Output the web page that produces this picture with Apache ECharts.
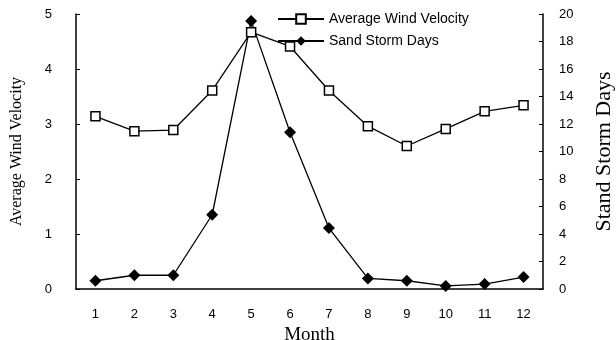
<!DOCTYPE html>
<html>
<head>
<meta charset="utf-8">
<script src="https://cdn.jsdelivr.net/npm/echarts@6/dist/echarts.min.js"></script>
<style>
html, body { margin: 0; padding: 0; background: #fff; }
#main { width: 616px; height: 340px; }
</style>
</head>
<body>
<div id="main"></div>
<script>
var months = ['1', '2', '3', '4', '5', '6', '7', '8', '9', '10', '11', '12'];
var windVelocity = [3.14, 2.87, 2.89, 3.61, 4.67, 4.41, 3.61, 2.96, 2.6, 2.91, 3.23, 3.34];
var stormDays = [0.6, 1.0, 1.0, 5.4, 19.5, 11.4, 4.43, 0.77, 0.6, 0.22, 0.36, 0.87];

var myChart = echarts.init(document.getElementById('main'));

var tickFont = { color: '#000', fontFamily: 'Liberation Sans', fontSize: 13 };

option = {
    animation: false,
    backgroundColor: '#fff',
    grid: { left: 76, right: 73, top: 14, bottom: 51, containLabel: false, outerBoundsMode: 'none' },
    legend: {
        orient: 'vertical',
        left: 272,
        top: 7,
        itemWidth: 46,
        itemHeight: 12,
        itemGap: 8,
        textStyle: { color: '#000', fontFamily: 'Liberation Sans', fontSize: 14 },
        data: ['Average Wind Velocity', 'Sand Storm Days']
    },
    xAxis: {
        type: 'category',
        data: months,
        name: 'Month',
        nameLocation: 'middle',
        nameGap: 35,
        nameTextStyle: { color: '#000', fontFamily: 'Liberation Serif', fontSize: 19 },
        axisLine: { lineStyle: { color: '#000', width: 1.5 } },
        axisTick: { inside: true, length: 4, lineStyle: { color: '#000' } },
        axisLabel: Object.assign({ margin: 19 }, tickFont)
    },
    yAxis: [{
        type: 'value',
        min: 0,
        max: 5,
        interval: 1,
        name: 'Average Wind Velocity',
        nameLocation: 'middle',
        nameGap: 51,
        nameTextStyle: { color: '#000', fontFamily: 'Liberation Serif', fontSize: 16 },
        splitLine: { show: false },
        axisLine: { show: true, lineStyle: { color: '#000', width: 1.5 } },
        axisTick: { show: true, inside: true, length: 4, lineStyle: { color: '#000' } },
        axisLabel: Object.assign({ margin: 24 }, tickFont)
    }, {
        type: 'value',
        min: 0,
        max: 20,
        interval: 2,
        name: 'Stand Storm Days',
        nameLocation: 'middle',
        nameGap: 50,
        nameTextStyle: { color: '#000', fontFamily: 'Liberation Serif', fontSize: 22 },
        splitLine: { show: false },
        axisLine: { show: true, lineStyle: { color: '#000', width: 1.5 } },
        axisTick: { show: true, inside: true, length: 4, lineStyle: { color: '#000' } },
        axisLabel: Object.assign({ margin: 16 }, tickFont)
    }],
    series: [{
        name: 'Average Wind Velocity',
        type: 'line',
        yAxisIndex: 0,
        data: windVelocity,
        symbol: 'rect',
        symbolSize: 9,
        itemStyle: { color: '#fff', borderColor: '#000', borderWidth: 1.5 },
        lineStyle: { color: '#000', width: 1.3 }
    }, {
        name: 'Sand Storm Days',
        type: 'line',
        yAxisIndex: 1,
        data: stormDays,
        symbol: 'diamond',
        symbolSize: 12,
        itemStyle: { color: '#000' },
        lineStyle: { color: '#000', width: 1.3 }
    }]
};

myChart.setOption(option);
</script>
</body>
</html>
